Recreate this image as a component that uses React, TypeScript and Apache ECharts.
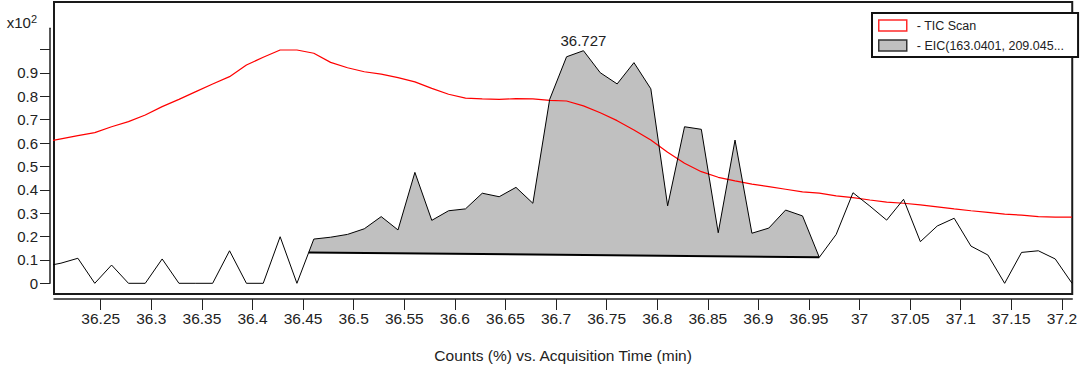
import React, { useEffect, useRef } from "react";
import * as echarts from "echarts";

// Acquisition times (min) of the scans
const times = [
  36.1941, 36.2107, 36.2274, 36.2441, 36.2607, 36.2774, 36.294, 36.3107, 36.3273, 36.344,
  36.3606, 36.3773, 36.394, 36.4106, 36.4273, 36.4439, 36.4606, 36.4772, 36.4939, 36.5105,
  36.5272, 36.5438, 36.5605, 36.5772, 36.5938, 36.6105, 36.6271, 36.6438, 36.6604, 36.6771,
  36.6937, 36.7104, 36.7271, 36.7437, 36.7604, 36.777, 36.7937, 36.8103, 36.827, 36.8436,
  36.8603, 36.8769, 36.8936, 36.9103, 36.9269, 36.9436, 36.9602, 36.9769, 36.9935, 37.0102,
  37.0268, 37.0435, 37.0601, 37.0768, 37.0935, 37.1101, 37.1268, 37.1434, 37.1601, 37.1767,
  37.1934, 37.21,
];

// TIC Scan (x10^2 counts %)
const ticValues = [
  0.603, 0.617, 0.631, 0.644, 0.669, 0.691, 0.719, 0.755, 0.786, 0.819,
  0.852, 0.883, 0.933, 0.966, 0.997, 0.997, 0.983, 0.944, 0.921, 0.904,
  0.894, 0.879, 0.861, 0.833, 0.808, 0.791, 0.788, 0.786, 0.789, 0.788,
  0.782, 0.779, 0.758, 0.729, 0.695, 0.655, 0.612, 0.56, 0.513, 0.477,
  0.453, 0.438, 0.424, 0.413, 0.402, 0.391, 0.385, 0.374, 0.366, 0.356,
  0.347, 0.342, 0.335, 0.327, 0.318, 0.31, 0.303, 0.296, 0.291, 0.285,
  0.283, 0.283,
];

// EIC (x10^2 counts %)
const eicValues = [
  0.072, 0.086, 0.107, 0, 0.078, 0, 0, 0.104, 0, 0,
  0, 0.139, 0, 0, 0.199, 0, 0.189, 0.197, 0.209, 0.233,
  0.285, 0.228, 0.474, 0.269, 0.31, 0.318, 0.385, 0.37, 0.41, 0.342,
  0.786, 0.968, 0.994, 0.9, 0.852, 0.943, 0.831, 0.331, 0.669, 0.658,
  0.216, 0.612, 0.214, 0.236, 0.313, 0.288, 0.111, 0.209, 0.387, 0.33,
  0.27, 0.359, 0.178, 0.245, 0.278, 0.159, 0.121, 0, 0.132, 0.139,
  0.104, 0,
];

// Integrated peak
const peakStartIndex = 16;
const peakEndIndex = 46;
const peakTopIndex = 32;
const baselineStart = [36.4556, 0.132];
const baselineEnd = [36.9602, 0.111];

const xTicks = [
  36.25, 36.3, 36.35, 36.4, 36.45, 36.5, 36.55, 36.6, 36.65, 36.7,
  36.75, 36.8, 36.85, 36.9, 36.95, 37, 37.05, 37.1, 37.15, 37.2,
];
const yTicks = [0, 0.1, 0.2, 0.3, 0.4, 0.5, 0.6, 0.7, 0.8, 0.9, 1.0];
const yLabelTicks = [0, 0.1, 0.2, 0.3, 0.4, 0.5, 0.6, 0.7, 0.8, 0.9];

const TIC_NAME = "TIC Scan";
const EIC_NAME = "EIC(163.0401, 209.045...";
const FONT = "'Liberation Sans', Arial, sans-serif";
const INK = "#222";

export default function App() {
  const ref = useRef<HTMLDivElement>(null);

  useEffect(() => {
    if (!ref.current) return;
    const chart = echarts.init(ref.current, undefined, { renderer: "svg" });

    const ticData = times.map((t, i) => [t, ticValues[i]]);
    const eicData = times.map((t, i) => [t, eicValues[i]]);
    const peakPoints = [
      baselineStart,
      ...eicData.slice(peakStartIndex, peakEndIndex + 1),
      baselineEnd,
    ];

    const option: any = {
      animation: false,
      backgroundColor: "#fff",
      grid: [
        {
          left: 54,
          top: 2,
          right: 3,
          bottom: 78,
          show: true,
          backgroundColor: "#fff",
          borderColor: "#1a1a1a",
          borderWidth: 2,
        },
        { left: 50, top: 28.3, width: 1, bottom: 88.7, show: false },
      ],
      xAxis: [
        {
          type: "value",
          gridIndex: 0,
          min: 36.2038,
          max: 37.2102,
          position: "bottom",
          offset: 5,
          axisLine: { show: true, onZero: false, lineStyle: { color: INK, width: 1.5 } },
          axisTick: {
            show: true,
            length: 11,
            customValues: xTicks,
            lineStyle: { color: INK, width: 1 },
          },
          axisLabel: {
            customValues: xTicks,
            formatter: (v: number) => String(parseFloat(v.toFixed(2))),
            margin: 11,
            fontSize: 15.5,
            color: INK,
            fontFamily: FONT,
          },
          splitLine: { show: false },
          name: "Counts (%) vs. Acquisition Time (min)",
          nameLocation: "middle",
          nameGap: 48,
          nameTextStyle: { fontSize: 15.5, color: INK, fontFamily: FONT },
        },
        { type: "value", gridIndex: 1, show: false, min: 0, max: 1 },
      ],
      yAxis: [
        { type: "value", gridIndex: 0, min: -0.0457, max: 1.2021, show: false },
        {
          type: "value",
          gridIndex: 1,
          min: 0,
          max: 1.091,
          axisLine: { show: true, onZero: false, lineStyle: { color: INK, width: 1.5 } },
          axisTick: {
            show: true,
            length: 10,
            customValues: yTicks,
            lineStyle: { color: INK, width: 1 },
          },
          axisLabel: {
            customValues: yLabelTicks,
            formatter: (v: number) => (v === 0 ? "0" : v.toFixed(1)),
            margin: 12,
            fontSize: 15,
            color: INK,
            fontFamily: FONT,
          },
          splitLine: { show: false },
          name: "x10{sup|2}",
          nameLocation: "end",
          nameGap: -4,
          nameTextStyle: {
            fontSize: 15,
            color: INK,
            fontFamily: FONT,
            align: "right",
            padding: [0, 13, 0, 0],
            rich: {
              sup: { fontSize: 11, color: INK, fontFamily: FONT, verticalAlign: "top", padding: [0, 0, 8, 0] },
            },
          },
        },
      ],
      legend: {
        orient: "vertical",
        left: 872,
        top: 13,
        itemWidth: 28,
        itemHeight: 11,
        itemGap: 7,
        padding: [6, 14, 5, 6],
        borderColor: "#111",
        borderWidth: 2,
        backgroundColor: "#fff",
        selectedMode: false,
        formatter: (n: string) => "- " + n,
        textStyle: { fontSize: 12.5, color: INK, fontFamily: FONT, padding: [0, 0, 0, 5] },
        data: [
          {
            name: TIC_NAME,
            icon: "rect",
            itemStyle: { color: "#fff", borderColor: "#ff2a2a", borderWidth: 1.5 },
          },
          {
            name: EIC_NAME,
            icon: "rect",
            itemStyle: { color: "#c0c0c0", borderColor: "#333", borderWidth: 1.5 },
          },
        ],
      },
      series: [
        {
          type: "custom",
          name: EIC_NAME,
          xAxisIndex: 0,
          yAxisIndex: 0,
          silent: true,
          z: 1,
          itemStyle: { color: "#c0c0c0" },
          data: [0],
          renderItem: (_params: any, api: any) => {
            const pts = peakPoints.map((p) => api.coord(p));
            const a = api.coord(baselineStart);
            const b = api.coord(baselineEnd);
            return {
              type: "group",
              children: [
                { type: "polygon", shape: { points: pts }, style: { fill: "#c0c0c0", stroke: "none" } },
                {
                  type: "line",
                  shape: { x1: a[0], y1: a[1], x2: b[0], y2: b[1] },
                  style: { stroke: "#000", lineWidth: 2 },
                },
              ],
            };
          },
        },
        {
          type: "line",
          name: TIC_NAME,
          xAxisIndex: 0,
          yAxisIndex: 0,
          data: ticData,
          symbol: "none",
          showSymbol: false,
          z: 3,
          lineStyle: { color: "#ff0000", width: 1.2 },
          itemStyle: { color: "#ff0000" },
        },
        {
          type: "line",
          name: EIC_NAME,
          xAxisIndex: 0,
          yAxisIndex: 0,
          data: eicData,
          symbol: "none",
          showSymbol: false,
          z: 4,
          lineStyle: { color: "#000", width: 1 },
          itemStyle: { color: "#000" },
          markPoint: {
            symbol: "circle",
            symbolSize: 1,
            itemStyle: { color: "rgba(0,0,0,0)" },
            label: {
              show: true,
              position: "top",
              distance: 2,
              formatter: () => times[peakTopIndex].toFixed(3),
              fontSize: 15,
              color: INK,
              fontFamily: FONT,
            },
            data: [{ coord: [times[peakTopIndex], eicValues[peakTopIndex]] }],
          },
        },
      ],
    };

    chart.setOption(option);
    return () => chart.dispose();
  }, []);

  return (
    <div
      ref={ref}
      style={{ position: "fixed", left: 0, top: 0, width: 1080, height: 372, background: "#fff" }}
    />
  );
}
